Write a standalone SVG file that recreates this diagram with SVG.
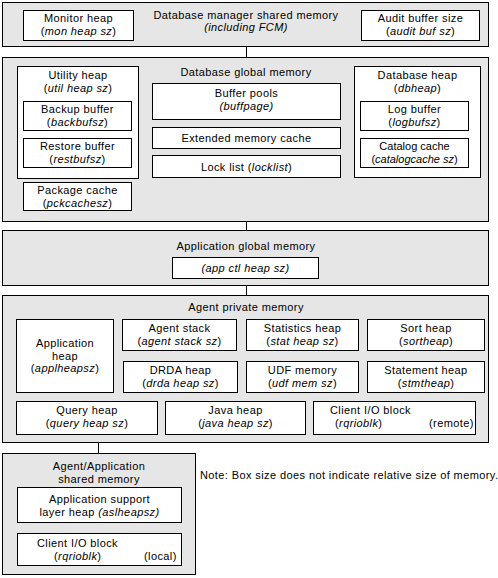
<svg xmlns="http://www.w3.org/2000/svg" width="498" height="578" viewBox="0 0 498 578">
<style>
text{font-family:"Liberation Sans",Arial,sans-serif;font-size:11px;letter-spacing:0.4px;fill:#000}
.m{text-anchor:middle}
.i{font-style:italic}
.area{fill:#e6e6e6;stroke:#000;stroke-width:1}
.box{fill:#fff;stroke:#000;stroke-width:1}
.conn{stroke:#000;stroke-width:1;fill:none}
</style>
<rect width="498" height="578" fill="#fff"/>
<g id="connectors">
<line class="conn" x1="246.5" y1="46.5" x2="246.5" y2="57.5"/>
<line class="conn" x1="246.5" y1="221.5" x2="246.5" y2="230.5"/>
<line class="conn" x1="246.5" y1="285.5" x2="246.5" y2="295.5"/>
<line class="conn" x1="98.5" y1="442.5" x2="98.5" y2="453.5"/>
</g>
<g id="dbm-shared">
<rect class="area" x="2.5" y="2.5" width="486" height="44"/>
<text class="m" x="246" y="19">Database manager shared memory</text>
<text class="m i" x="246" y="31">(including FCM)</text>
</g>
<g id="monitor-heap">
<rect class="box" x="23.5" y="10.5" width="110" height="30"/>
<text class="m" x="78.5" y="22">Monitor heap</text>
<text class="m" x="78.5" y="35">(<tspan class="i">mon heap sz</tspan>)</text>
</g>
<g id="audit-buffer">
<rect class="box" x="361.5" y="10.5" width="118" height="30"/>
<text class="m" x="420.5" y="22">Audit buffer size</text>
<text class="m" x="420.5" y="35">(<tspan class="i">audit buf sz</tspan>)</text>
</g>
<g id="db-global">
<rect class="area" x="2.5" y="57.5" width="486" height="164"/>
<text class="m" x="246" y="76">Database global memory</text>
</g>
<g id="utility-heap">
<rect class="box" x="17.5" y="66.5" width="121" height="112"/>
<text class="m" x="78" y="79">Utility heap</text>
<text class="m" x="78" y="92">(<tspan class="i">util heap sz</tspan>)</text>
</g>
<g id="backup-buffer">
<rect class="box" x="23.5" y="101.5" width="108" height="29"/>
<text class="m" x="77.5" y="113">Backup buffer</text>
<text class="m" x="77.5" y="125.5">(<tspan class="i">backbufsz</tspan>)</text>
</g>
<g id="restore-buffer">
<rect class="box" x="23.5" y="138.5" width="108" height="29"/>
<text class="m" x="77.5" y="150">Restore buffer</text>
<text class="m" x="77.5" y="162.5">(<tspan class="i">restbufsz</tspan>)</text>
</g>
<g id="package-cache">
<rect class="box" x="23.5" y="182.5" width="108" height="28"/>
<text class="m" x="77.5" y="194">Package cache</text>
<text class="m" x="77.5" y="206.5">(<tspan class="i">pckcachesz</tspan>)</text>
</g>
<g id="buffer-pools">
<rect class="box" x="152.5" y="83.5" width="188" height="36"/>
<text class="m" x="246.5" y="97">Buffer pools</text>
<text class="m i" x="246.5" y="110">(buffpage)</text>
</g>
<g id="extended-cache">
<rect class="box" x="152.5" y="127.5" width="188" height="21"/>
<text class="m" x="246.5" y="142">Extended memory cache</text>
</g>
<g id="lock-list">
<rect class="box" x="152.5" y="155.5" width="188" height="22"/>
<text class="m" x="246.5" y="170.5">Lock list (<tspan class="i">locklist</tspan>)</text>
</g>
<g id="database-heap">
<rect class="box" x="354.5" y="66.5" width="126" height="111"/>
<text class="m" x="417.5" y="79">Database heap</text>
<text class="m" x="417.5" y="92">(<tspan class="i">dbheap</tspan>)</text>
</g>
<g id="log-buffer">
<rect class="box" x="360.5" y="101.5" width="108" height="29"/>
<text class="m" x="414.5" y="113">Log buffer</text>
<text class="m" x="414.5" y="125.5">(<tspan class="i">logbufsz</tspan>)</text>
</g>
<g id="catalog-cache">
<rect class="box" x="360.5" y="138.5" width="108" height="29"/>
<text class="m" x="414.5" y="150" style="letter-spacing:0">Catalog cache</text>
<text class="m" x="414.5" y="162.5" style="letter-spacing:0">(<tspan class="i">catalogcache sz</tspan>)</text>
</g>
<g id="app-global">
<rect class="area" x="2.5" y="230.5" width="486" height="55"/>
<text class="m" x="246" y="250">Application global memory</text>
</g>
<g id="app-ctl-heap">
<rect class="box" x="172.5" y="257.5" width="146" height="21"/>
<text class="m i" x="245.5" y="272">(app ctl heap sz)</text>
</g>
<g id="agent-private">
<rect class="area" x="2.5" y="295.5" width="486" height="147"/>
<text class="m" x="246" y="311">Agent private memory</text>
</g>
<g id="application-heap">
<rect class="box" x="16.5" y="319.5" width="97" height="73"/>
<text class="m" x="65" y="347">Application</text>
<text class="m" x="65" y="359.5">heap</text>
<text class="m" x="65" y="372">(<tspan class="i">applheapsz</tspan>)</text>
</g>
<g id="agent-stack">
<rect class="box" x="122.5" y="319.5" width="114" height="31"/>
<text class="m" x="179.5" y="332">Agent stack</text>
<text class="m" x="179.5" y="344.5">(<tspan class="i">agent stack sz</tspan>)</text>
</g>
<g id="statistics-heap">
<rect class="box" x="246.5" y="319.5" width="112" height="31"/>
<text class="m" x="302.5" y="332">Statistics heap</text>
<text class="m" x="302.5" y="344.5">(<tspan class="i">stat heap sz</tspan>)</text>
</g>
<g id="sort-heap">
<rect class="box" x="367.5" y="319.5" width="117" height="31"/>
<text class="m" x="426" y="332">Sort heap</text>
<text class="m" x="426" y="344.5">(<tspan class="i">sortheap</tspan>)</text>
</g>
<g id="drda-heap">
<rect class="box" x="123.5" y="361.5" width="114" height="31"/>
<text class="m" x="180.5" y="374">DRDA heap</text>
<text class="m" x="180.5" y="386.5">(<tspan class="i">drda heap sz</tspan>)</text>
</g>
<g id="udf-memory">
<rect class="box" x="246.5" y="361.5" width="112" height="31"/>
<text class="m" x="302.5" y="374">UDF memory</text>
<text class="m" x="302.5" y="386.5">(<tspan class="i">udf mem sz</tspan>)</text>
</g>
<g id="statement-heap">
<rect class="box" x="367.5" y="361.5" width="117" height="31"/>
<text class="m" x="426" y="374">Statement heap</text>
<text class="m" x="426" y="386.5">(<tspan class="i">stmtheap</tspan>)</text>
</g>
<g id="query-heap">
<rect class="box" x="16.5" y="401.5" width="141" height="33"/>
<text class="m" x="87" y="414">Query heap</text>
<text class="m" x="87" y="427">(<tspan class="i">query heap sz</tspan>)</text>
</g>
<g id="java-heap">
<rect class="box" x="165.5" y="401.5" width="140" height="33"/>
<text class="m" x="235.5" y="414">Java heap</text>
<text class="m" x="235.5" y="427">(<tspan class="i">java heap sz</tspan>)</text>
</g>
<g id="client-io-remote">
<rect class="box" x="313.5" y="401.5" width="162" height="33"/>
<text x="330" y="414">Client I/O block</text>
<text x="335" y="427">(<tspan class="i">rqrioblk</tspan>)</text>
<text x="429" y="427">(remote)</text>
</g>
<g id="agent-app-shared">
<rect class="area" x="2.5" y="453.5" width="193" height="121"/>
<text class="m" x="99" y="470">Agent/Application</text>
<text class="m" x="99" y="483">shared memory</text>
</g>
<g id="asl-heap">
<rect class="box" x="17.5" y="487.5" width="164" height="35"/>
<text class="m" x="99.5" y="503">Application support</text>
<text class="m" x="99.5" y="516">layer heap <tspan class="i">(aslheapsz)</tspan></text>
</g>
<g id="client-io-local">
<rect class="box" x="17.5" y="533.5" width="164" height="32"/>
<text x="37" y="547">Client I/O block</text>
<text x="54" y="559.5">(<tspan class="i">rqrioblk</tspan>)</text>
<text x="144" y="559.5">(local)</text>
</g>
<g id="note">
<text x="200" y="479">Note: Box size does not indicate relative size of memory.</text>
</g>
</svg>
